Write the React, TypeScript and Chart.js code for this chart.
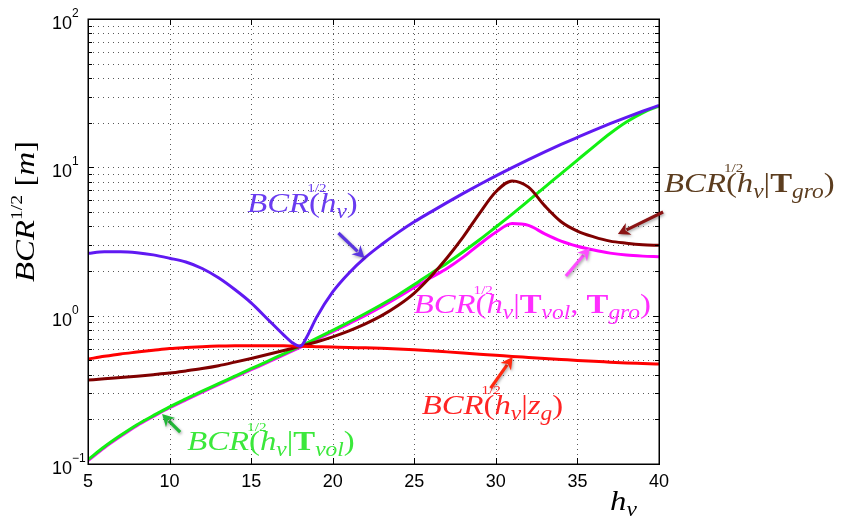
import React, { useEffect, useRef } from 'react';
import { Chart, registerables } from 'chart.js';

Chart.register(...registerables);

// ---------- data ----------
const hv = [5, 6, 7, 8, 9, 10, 11, 12, 13, 14, 15, 16, 17, 17.5, 18, 18.5, 19, 20, 21, 22, 23, 24, 25, 26, 27, 28, 29, 30, 31, 32, 33, 34, 35, 36, 37, 38, 39, 40];

const bcrHv = [2.63, 2.70, 2.70, 2.66, 2.57, 2.44, 2.30, 2.08, 1.80, 1.50, 1.22, 0.95, 0.74, 0.66, 0.621, 0.75, 0.97, 1.445, 1.94, 2.47, 3.02, 3.63, 4.29, 4.99, 5.78, 6.67, 7.66, 8.75, 9.95, 11.27, 12.71, 14.26, 15.92, 17.74, 19.68, 21.73, 23.88, 26.18];

const bcrTvol = [0.107, 0.1306, 0.156, 0.184, 0.212, 0.243, 0.275, 0.310, 0.348, 0.391, 0.439, 0.492, 0.553, 0.586, 0.622, 0.661, 0.702, 0.796, 0.906, 1.035, 1.19, 1.38, 1.62, 1.92, 2.26, 2.70, 3.25, 3.96, 4.84, 5.96, 7.35, 9.08, 11.2, 13.8, 16.9, 20.2, 23.3, 25.9];

const bcrTvolTgro = [0.1055, 0.1288, 0.1538, 0.1815, 0.209, 0.2395, 0.271, 0.3055, 0.343, 0.385, 0.432, 0.484, 0.544, 0.577, 0.612, 0.650, 0.690, 0.779, 0.884, 1.005, 1.15, 1.33, 1.55, 1.80, 2.08, 2.48, 3.03, 3.65, 4.18, 4.06, 3.56, 3.18, 2.94, 2.77, 2.64, 2.56, 2.52, 2.50];

const bcrTgro = [0.368, 0.375, 0.383, 0.391, 0.400, 0.410, 0.424, 0.440, 0.460, 0.486, 0.515, 0.547, 0.582, 0.601, 0.622, 0.642, 0.665, 0.720, 0.790, 0.880, 1.00, 1.17, 1.42, 1.83, 2.45, 3.4, 4.9, 6.85, 8.1, 7.35, 5.5, 4.3, 3.72, 3.4, 3.18, 3.08, 3.01, 2.98];

const bcrZg = [0.51, 0.532, 0.552, 0.568, 0.584, 0.600, 0.610, 0.618, 0.624, 0.627, 0.628, 0.628, 0.626, 0.624, 0.622, 0.620, 0.618, 0.614, 0.610, 0.607, 0.603, 0.597, 0.589, 0.580, 0.570, 0.560, 0.550, 0.541, 0.531, 0.523, 0.515, 0.507, 0.499, 0.492, 0.486, 0.480, 0.476, 0.472];

const xTickValues = [5, 10, 15, 20, 25, 30, 35, 40];
const xTickLabels = ['5', '10', '15', '20', '25', '30', '35', '40'];
const yMajorValues = [0.1, 1, 10, 100];
const yMajorExponents = ['\u22121', '0', '1', '2'];

// ---------- text helpers ----------
type Seg = [string, string];
const SERIF = '"Liberation Serif", "Times New Roman", serif';
const SANS = '"Liberation Sans", Arial, sans-serif';
const KX = 1.17;

function fontFor(kind: string, s: number) {
  switch (kind) {
    case 'i': return `italic ${s}px ${SERIF}`;
    case 'b': return `bold ${s}px ${SERIF}`;
    case 'sub': return `italic ${Math.round(s * 0.7)}px ${SERIF}`;
    case 'sup': return `${Math.round(s * 0.45)}px ${SERIF}`;
    case 'supA': return `${Math.round(s * 0.6)}px ${SERIF}`;
    default: return `${s}px ${SERIF}`;
  }
}

function richWidth(ctx: CanvasRenderingContext2D, segs: Seg[], s: number) {
  let w = 0;
  for (const [k, t] of segs) {
    ctx.font = fontFor(k, s);
    if (k === 'sup') continue;
    w += ctx.measureText(t).width;
  }
  return w * KX;
}

function drawRich(ctx: CanvasRenderingContext2D, x: number, y: number, segs: Seg[], s: number, color: string) {
  ctx.save();
  ctx.translate(x, y);
  ctx.scale(KX, 1);
  let cx = 0;
  ctx.textBaseline = 'alphabetic';
  ctx.textAlign = 'left';
  ctx.fillStyle = color;
  for (const [k, t] of segs) {
    ctx.font = fontFor(k, s);
    const w = ctx.measureText(t).width;
    if (k === 'sup') {
      ctx.fillText(t, cx - s * 0.06, -s * 0.7);
      continue;
    }
    let dy = 0;
    if (k === 'sub') dy = s * 0.2;
    if (k === 'supA') dy = -s * 0.42;
    ctx.fillText(t, cx, dy);
    cx += w;
  }
  ctx.restore();
}

const BASE: Seg[] = [['i', 'BCR'], ['sup', '1/2'], ['r', '('], ['i', 'h'], ['sub', 'v']];
const labelBlue: Seg[] = [...BASE, ['r', ')']];
const labelGro: Seg[] = [...BASE, ['r', '|'], ['b', 'T'], ['sub', 'gro'], ['r', ')']];
const labelVolGro: Seg[] = [...BASE, ['r', '|'], ['b', 'T'], ['sub', 'vol'], ['r', ', '], ['b', 'T'], ['sub', 'gro'], ['r', ')']];
const labelZg: Seg[] = [...BASE, ['r', '|'], ['i', 'z'], ['sub', 'g'], ['r', ')']];
const labelVol: Seg[] = [...BASE, ['r', '|'], ['b', 'T'], ['sub', 'vol'], ['r', ')']];

// annotations in data coordinates
const annotations = [
  { text: labelBlue, tx: 14.76, ty: 5.0, color: '#6a3cf0', arrow: '#5a35e0', from: [20.35, 3.61], to: [21.95, 2.45] },
  { text: labelGro, tx: 40.31, ty: 6.82, color: '#5c3d1f', arrow: '#8b1414', from: [40.25, 5.0], to: [37.48, 3.55] },
  { text: labelVolGro, tx: 24.96, ty: 1.04, color: '#ff2eff', arrow: '#ff4dff', from: [34.29, 1.85], to: [35.76, 2.86] },
  { text: labelZg, tx: 25.45, ty: 0.217, color: '#ff2424', arrow: '#ff2a10', from: [29.68, 0.325], to: [31.03, 0.526] },
  { text: labelVol, tx: 11.08, ty: 0.124, color: '#3be83b', arrow: '#22b838', from: [10.65, 0.164], to: [9.54, 0.217] },
];

function drawArrow(ctx: CanvasRenderingContext2D, x1: number, y1: number, x2: number, y2: number, color: string) {
  const ang = Math.atan2(y2 - y1, x2 - x1);
  const hl = 12, hw = 6.5;
  ctx.save();
  ctx.shadowColor = 'rgba(0,0,0,0.35)';
  ctx.shadowBlur = 3;
  ctx.shadowOffsetX = 1;
  ctx.shadowOffsetY = 1.5;
  ctx.strokeStyle = color;
  ctx.fillStyle = color;
  ctx.lineWidth = 3.2;
  ctx.lineCap = 'butt';
  const bx = x2 - Math.cos(ang) * hl * 0.8;
  const by = y2 - Math.sin(ang) * hl * 0.8;
  ctx.beginPath();
  ctx.moveTo(x1, y1);
  ctx.lineTo(bx, by);
  ctx.stroke();
  ctx.beginPath();
  ctx.moveTo(x2, y2);
  ctx.lineTo(x2 - Math.cos(ang) * hl + Math.sin(ang) * hw, y2 - Math.sin(ang) * hl - Math.cos(ang) * hw);
  ctx.lineTo(x2 - Math.cos(ang) * hl * 0.7, y2 - Math.sin(ang) * hl * 0.7);
  ctx.lineTo(x2 - Math.cos(ang) * hl - Math.sin(ang) * hw, y2 - Math.sin(ang) * hl + Math.cos(ang) * hw);
  ctx.closePath();
  ctx.fill();
  ctx.restore();
}

function yGridValues() {
  const out: number[] = [];
  for (let e = -1; e <= 1; e++) for (let m = 1; m <= 9; m++) out.push(m * Math.pow(10, e));
  out.push(100);
  return out;
}

const matlabPlugin = {
  id: 'matlabAxes',
  beforeDatasetsDraw(chart: any) {
    const { ctx, chartArea: a, scales } = chart;
    const x = scales.x, y = scales.y;
    ctx.save();
    ctx.strokeStyle = 'rgba(60,60,60,0.85)';
    ctx.lineWidth = 1;
    ctx.setLineDash([1, 4]);
    for (const v of xTickValues) {
      const px = Math.round(x.getPixelForValue(v)) + 0.5;
      if (px <= a.left + 2 || px >= a.right - 2) continue;
      ctx.beginPath(); ctx.moveTo(px, a.top); ctx.lineTo(px, a.bottom); ctx.stroke();
    }
    for (const v of yGridValues()) {
      const py = Math.round(y.getPixelForValue(v)) + 0.5;
      if (py <= a.top + 2 || py >= a.bottom - 2) continue;
      ctx.beginPath(); ctx.moveTo(a.left, py); ctx.lineTo(a.right, py); ctx.stroke();
    }
    ctx.restore();
  },
  afterDraw(chart: any) {
    const { ctx, chartArea: a, scales } = chart;
    const x = scales.x, y = scales.y;
    ctx.save();
    // ticks
    ctx.strokeStyle = '#000';
    ctx.lineWidth = 1;
    for (const v of yGridValues()) {
      const py = Math.round(y.getPixelForValue(v)) + 0.5;
      const len = yMajorValues.includes(v) ? 6 : 4;
      ctx.beginPath();
      ctx.moveTo(a.left, py); ctx.lineTo(a.left + len, py);
      ctx.moveTo(a.right, py); ctx.lineTo(a.right - len, py);
      ctx.stroke();
    }
    for (const v of xTickValues) {
      const px = Math.round(x.getPixelForValue(v)) + 0.5;
      ctx.beginPath();
      ctx.moveTo(px, a.bottom); ctx.lineTo(px, a.bottom - 6);
      ctx.moveTo(px, a.top); ctx.lineTo(px, a.top + 6);
      ctx.stroke();
    }
    // box
    ctx.lineWidth = 1.5;
    ctx.strokeRect(Math.round(a.left) + 0.25, Math.round(a.top) + 0.25, Math.round(a.right - a.left), Math.round(a.bottom - a.top));

    // tick labels
    ctx.fillStyle = '#000';
    ctx.font = `18px ${SANS}`;
    ctx.textAlign = 'center';
    ctx.textBaseline = 'alphabetic';
    xTickValues.forEach((v, i) => {
      ctx.fillText(xTickLabels[i], x.getPixelForValue(v), a.bottom + 23);
    });
    yMajorValues.forEach((v, i) => {
      const py = y.getPixelForValue(v);
      ctx.font = `18px ${SANS}`;
      ctx.textAlign = 'right';
      ctx.fillText('10', a.left - 16, py + 10);
      ctx.font = `12px ${SANS}`;
      ctx.textAlign = 'left';
      ctx.fillText(yMajorExponents[i], a.left - 16, py - 2);
    });

    // axis labels
    const xl: Seg[] = [['i', 'h'], ['sub', 'v']];
    drawRich(ctx, a.right - 49, a.bottom + 46, xl, 28, '#000');
    const yl: Seg[] = [['i', 'BCR'], ['supA', '1/2'], ['r', ' ['], ['i', 'm'], ['r', ']']];
    const yw = richWidth(ctx, yl, 28);
    ctx.save();
    ctx.translate(34, (a.top + a.bottom) / 2 - 30);
    ctx.rotate(-Math.PI / 2);
    drawRich(ctx, -yw / 2, 0, yl, 28, '#000');
    ctx.restore();

    // annotations
    for (const an of annotations) {
      drawArrow(ctx, x.getPixelForValue(an.from[0]), y.getPixelForValue(an.from[1]), x.getPixelForValue(an.to[0]), y.getPixelForValue(an.to[1]), an.arrow);
      drawRich(ctx, x.getPixelForValue(an.tx), y.getPixelForValue(an.ty), an.text, 28, an.color);
    }
    ctx.restore();
  },
};

function series(vals: number[]) {
  return hv.map((h, i) => ({ x: h, y: vals[i] }));
}

export default function App() {
  const ref = useRef<HTMLCanvasElement | null>(null);
  useEffect(() => {
    if (!ref.current) return;
    const common = { borderWidth: 3, pointRadius: 0, fill: false, cubicInterpolationMode: 'monotone' as const };
    const chart = new Chart(ref.current, {
      type: 'line',
      data: {
        datasets: [
          { label: 'BCR(hv)', data: series(bcrHv), borderColor: '#6019f2', order: 1, ...common },
          { label: 'BCR(hv|zg)', data: series(bcrZg), borderColor: '#ff0000', order: 2, ...common },
          { label: 'BCR(hv|Tgro)', data: series(bcrTgro), borderColor: '#7f0000', order: 3, ...common },
          { label: 'BCR(hv|Tvol)', data: series(bcrTvol), borderColor: '#12f012', order: 4, ...common },
          { label: 'BCR(hv|Tvol,Tgro)', data: series(bcrTvolTgro), borderColor: '#ff00ff', order: 5, ...common },
        ],
      },
      options: {
        responsive: false,
        animation: false,
        devicePixelRatio: 1,
        layout: { padding: { top: 19, right: 182, left: 0, bottom: 0 } },
        plugins: { legend: { display: false }, tooltip: { enabled: false } },
        scales: {
          x: {
            type: 'linear', min: 5, max: 40,
            ticks: { display: false }, grid: { display: false }, border: { display: false },
            afterFit: (s: any) => { s.height = 57; },
          },
          y: {
            type: 'logarithmic', min: 0.1, max: 100,
            ticks: { display: false }, grid: { display: false }, border: { display: false },
            afterFit: (s: any) => { s.width = 88; },
          },
        },
      },
      plugins: [matlabPlugin],
    });
    return () => chart.destroy();
  }, []);
  return (
    <div style={{ position: 'absolute', left: 0, top: 0, width: 841, height: 521, background: '#fff' }}>
      <canvas ref={ref} width={841} height={521} />
    </div>
  );
}
